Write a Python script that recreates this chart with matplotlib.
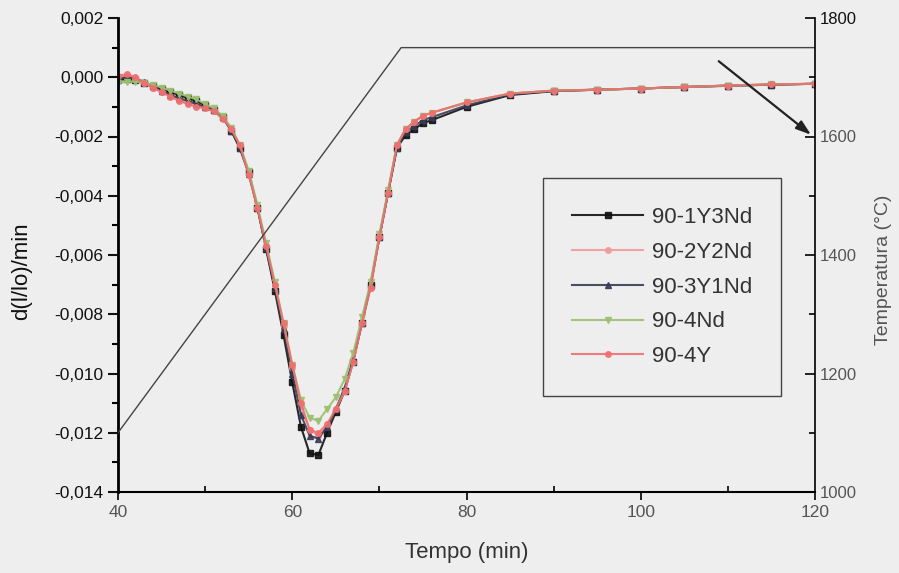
import numpy as np
import matplotlib
matplotlib.use('Agg')
import matplotlib.pyplot as plt
from matplotlib.ticker import MultipleLocator, FuncFormatter

plt.rcParams['font.family'] = ['Liberation Sans', 'DejaVu Sans']

# time axis (min)
tempo = [40, 41, 42, 43, 44, 45, 46, 47, 48, 49, 50, 51, 52, 53, 54, 55, 56, 57, 58,
         59, 60, 61, 62, 63, 64, 65, 66, 67, 68, 69, 70, 71, 72, 73, 74, 75, 76,
         80, 85, 90, 95, 100, 105, 110, 115, 120]

# d(l/lo)/min, in units of 1e-3
s_1y3nd = [-0.10, -0.05, -0.10, -0.20, -0.30, -0.40, -0.50, -0.60, -0.70, -0.80, -0.95,
           -1.10, -1.35, -1.80, -2.40, -3.20, -4.40, -5.80, -7.20, -8.70, -10.3, -11.8,
           -12.7, -12.75, -12.0, -11.3, -10.6, -9.6, -8.3, -7.0, -5.4, -3.9, -2.4, -1.95,
           -1.75, -1.55, -1.45, -1.00, -0.60, -0.47, -0.42, -0.38, -0.33, -0.29, -0.25, -0.22]
s_2y2nd = [0.00, 0.05, -0.05, -0.20, -0.35, -0.50, -0.62, -0.75, -0.85, -0.95, -1.00,
           -1.10, -1.35, -1.75, -2.30, -3.25, -4.40, -5.70, -7.00, -8.40, -9.80, -11.1,
           -11.9, -12.1, -11.8, -11.2, -10.6, -9.6, -8.3, -7.1, -5.4, -3.9, -2.3, -1.75,
           -1.50, -1.30, -1.20, -0.85, -0.55, -0.45, -0.42, -0.38, -0.33, -0.28, -0.24, -0.22]
s_3y1nd = [-0.05, 0.00, -0.05, -0.15, -0.30, -0.45, -0.60, -0.70, -0.80, -0.90, -1.00,
           -1.10, -1.35, -1.80, -2.40, -3.25, -4.40, -5.75, -7.10, -8.50, -10.0, -11.4,
           -12.1, -12.2, -11.8, -11.2, -10.5, -9.5, -8.3, -7.0, -5.4, -3.9, -2.4, -1.85,
           -1.65, -1.45, -1.35, -0.95, -0.58, -0.46, -0.42, -0.38, -0.33, -0.28, -0.25, -0.22]
s_4nd = [-0.20, -0.15, -0.15, -0.20, -0.25, -0.35, -0.45, -0.55, -0.65, -0.75, -0.90,
         -1.05, -1.30, -1.70, -2.30, -3.15, -4.30, -5.60, -6.90, -8.30, -9.70, -10.9,
         -11.5, -11.6, -11.2, -10.8, -10.2, -9.3, -8.1, -6.9, -5.3, -3.8, -2.3, -1.75,
         -1.50, -1.30, -1.20, -0.85, -0.55, -0.45, -0.42, -0.38, -0.33, -0.28, -0.24, -0.22]
s_4y = [0.05, 0.10, 0.00, -0.20, -0.35, -0.50, -0.65, -0.80, -0.90, -1.00, -1.05,
        -1.15, -1.40, -1.75, -2.30, -3.30, -4.40, -5.70, -7.00, -8.30, -9.70, -11.0,
        -11.9, -12.0, -11.7, -11.2, -10.6, -9.6, -8.3, -7.1, -5.4, -3.9, -2.3, -1.75,
        -1.50, -1.30, -1.20, -0.85, -0.55, -0.45, -0.42, -0.38, -0.33, -0.28, -0.24, -0.22]

labels = ['90-1Y3Nd', '90-2Y2Nd', '90-3Y1Nd', '90-4Nd', '90-4Y']
colors = ['#111111', '#f29a9a', '#3a3a55', '#9cc070', '#ee7070']
markers = ['s', 'o', '^', 'v', 'o']

# temperature program
t_temp = [40, 72.5, 120]
temp = [1100, 1750, 1750]

bg = '#eeeeee'
fig = plt.figure(figsize=(8.99, 5.73), dpi=100, facecolor=bg)
ax = fig.add_axes([118/899, 1-492/573, 697/899, 474/573], facecolor=bg)

series = [s_1y3nd, s_2y2nd, s_3y1nd, s_4nd, s_4y]
for s, lab, c, m in zip(series, labels, colors, markers):
	ax.plot(tempo, np.array(s)*1e-3, color=c, marker=m, markersize=4,
		linewidth=1.5, label=lab, alpha=0.9)

ax.set_xlim(40, 120)
ax.set_ylim(-0.014, 0.002)
ax.xaxis.set_major_locator(MultipleLocator(20))
ax.xaxis.set_minor_locator(MultipleLocator(10))
ax.yaxis.set_major_locator(MultipleLocator(0.002))
ax.yaxis.set_minor_locator(MultipleLocator(0.001))

def virgola(v, pos):
	if abs(v) < 1e-9:
		v = 0.0
	return f'{v:.3f}'.replace('.', ',')

ax.yaxis.set_major_formatter(FuncFormatter(virgola))
ax.tick_params(axis='y', which='major', direction='out', length=7, width=1.5, labelsize=12.5, colors='#111111')
ax.tick_params(axis='y', which='minor', direction='out', length=4, width=1.5)
ax.tick_params(axis='x', which='major', direction='out', length=6, width=1.2, labelsize=12.5, labelcolor='#555555')
ax.tick_params(axis='x', which='minor', direction='in', length=4, width=1.2)
ax.spines['top'].set_visible(False)
ax.spines['right'].set_visible(False)
ax.spines['left'].set_linewidth(2)
ax.spines['bottom'].set_linewidth(1.5)

ax.set_ylabel('d(l/lo)/min', fontsize=16, color='#111111')
ax.yaxis.set_label_coords(-0.123, 0.466)
ax.set_xlabel('Tempo (min)', fontsize=16, color='#333333')
ax.xaxis.set_label_coords(0.5, -0.105)

leg = ax.legend(loc='upper left', bbox_to_anchor=(0.61, 0.662), borderaxespad=0,
	fontsize=16, handlelength=3.2, labelspacing=0.62, borderpad=1.3, handletextpad=0.4,
	fancybox=False, edgecolor='#444444', facecolor=bg, framealpha=1,
	labelcolor='#333333')
leg.get_frame().set_linewidth(1.0)

# temperature axis
ax2 = ax.twinx()
ax2.plot(t_temp, temp, color='#444444', linewidth=1.0)
ax2.set_ylim(1000, 1800)
ax2.yaxis.set_major_locator(MultipleLocator(200))
ax2.yaxis.set_minor_locator(MultipleLocator(100))
ax2.tick_params(axis='y', which='major', direction='in', length=7, width=1.2, labelsize=12, labelcolor='#555555')
ax2.tick_params(axis='y', which='minor', direction='in', length=4, width=1.2)
ax2.spines['top'].set_visible(False)
ax2.spines['left'].set_visible(False)
ax2.spines['bottom'].set_visible(False)
ax2.spines['right'].set_linewidth(1.2)
ax2.set_ylabel('Temperatura (°C)', fontsize=14, color='#555555')
ax2.yaxis.set_label_coords(1.086, 0.468)

fig.canvas.draw()
for lbl in ax2.get_yticklabels():
	if lbl.get_text() == '1800':
		lbl.set_color('#111111')

ax.annotate('', xy=(119.8, -0.0020), xytext=(108.7, 0.0006),
	arrowprops=dict(arrowstyle='-|>,head_length=0.9,head_width=0.3', color='#222222', lw=1.6))

plt.savefig('out.png', dpi=100, facecolor=bg)
